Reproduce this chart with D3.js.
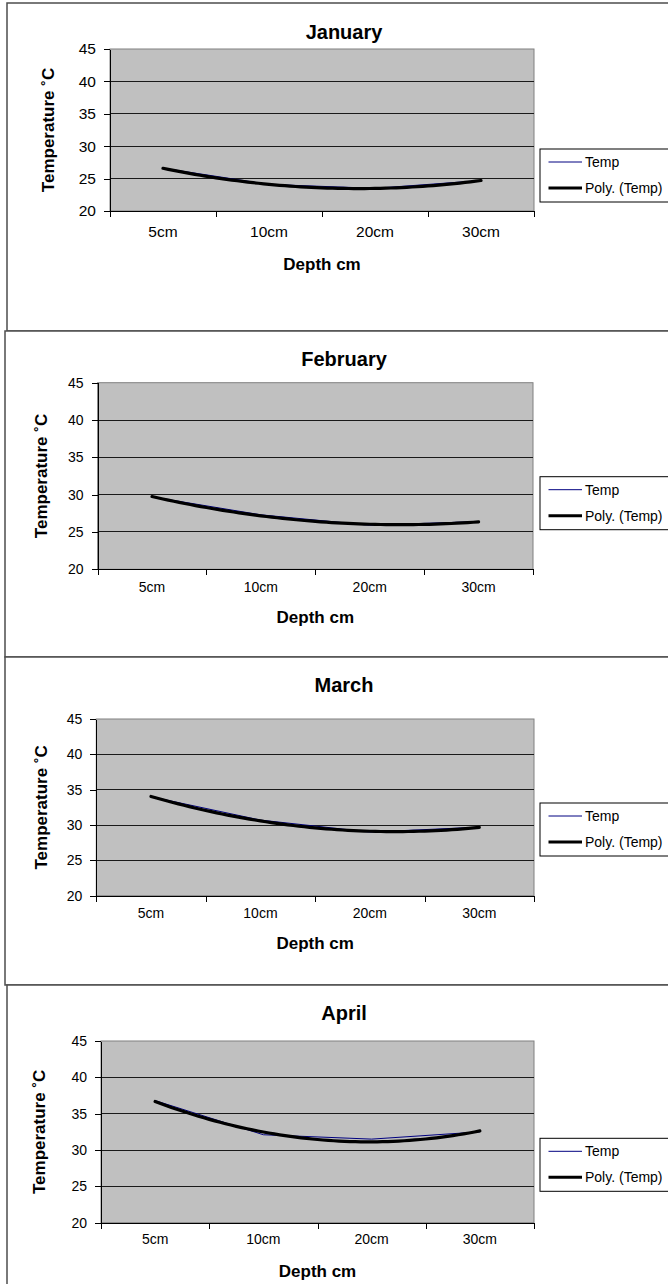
<!DOCTYPE html>
<meta charset="utf-8">
<style>
body { margin: 0; background: #fff; }
svg { display: block; }
text { font-family: "Liberation Sans", Arial, sans-serif; fill: #000; }
.axis path, .axis line { stroke: #000; shape-rendering: crispEdges; }
.grid line { stroke: #1a1a1a; shape-rendering: crispEdges; }
</style>
<svg id="chart" width="668" height="1284"></svg>
<script src="https://d3js.org/d3.v7.min.js"></script>
<script>

var depths = ["5cm", "10cm", "20cm", "30cm"];
var months = ["January", "February", "March", "April"];
var tempJan = [26.6, 24.1, 23.5, 24.7];
var tempFeb = [29.7, 27.3, 25.9, 26.4];
var tempMar = [34.0, 30.7, 29.0, 29.7];
var tempApr = [36.8, 32.1, 31.5, 32.5];
var yTicks = [20, 25, 30, 35, 40, 45];
var legendLabels = ["Temp", "Poly. (Temp)"];
var xTitle = "Depth cm", yTitle = "Temperature \u02DAC";

var series = [tempJan, tempFeb, tempMar, tempApr];

// where each of the four stacked charts sits on the page
var panels = [
  {fx: 7, fy: 3,   fb: 331,  l: 110,  r: 534, t: 49,    b: 211,    tickY: 236.5, xtY: 270,   ytX: 54,   legT: 149,   fs: 15.5},
  {fx: 5, fy: 331, fb: 657,  l: 97.6, r: 533, t: 382.7, b: 569.3,  tickY: 591.5, xtY: 622.5, ytX: 47,   legT: 476.7, fs: 14},
  {fx: 5, fy: 657, fb: 985,  l: 96.3, r: 534, t: 719,   b: 895.7,  tickY: 917.5, xtY: 949,   ytX: 46.5, legT: 803,   fs: 14},
  {fx: 7, fy: 985, fb: 1300, l: 101,  r: 534, t: 1041,  b: 1222.7, tickY: 1244,  xtY: 1276.5, ytX: 45,  legT: 1138.3, fs: 14}
];

var titleY = [39, 366, 692, 1020];

// least squares, order 2, x = 1..n (like the spreadsheet trendline)
function polyFit(ys) {
  var s = [0, 0, 0, 0, 0], t = [0, 0, 0];
  ys.forEach(function(y, i) {
    var x = i + 1;
    for (var k = 0; k < 5; k++) s[k] += Math.pow(x, k);
    for (var k = 0; k < 3; k++) t[k] += y * Math.pow(x, k);
  });
  var m = [[s[0], s[1], s[2], t[0]], [s[1], s[2], s[3], t[1]], [s[2], s[3], s[4], t[2]]];
  for (var i = 0; i < 3; i++) {
    for (var j = i + 1; j < 3; j++) {
      var f = m[j][i] / m[i][i];
      for (var k = i; k < 4; k++) m[j][k] -= f * m[i][k];
    }
  }
  var c = [0, 0, 0];
  for (var i = 2; i >= 0; i--) {
    var v = m[i][3];
    for (var k = i + 1; k < 3; k++) v -= m[i][k] * c[k];
    c[i] = v / m[i][i];
  }
  return function(x) { return c[0] + c[1] * x + c[2] * x * x; };
}

var svg = d3.select("#chart");

panels.forEach(function(p, n) {
  var data = series[n];
  var g = svg.append("g");

  // outer chart frame
  g.append("rect")
      .attr("x", p.fx).attr("y", p.fy)
      .attr("width", 700).attr("height", p.fb - p.fy)
      .attr("fill", "#fff")
      .attr("stroke", "#4d4d4d")
      .attr("stroke-width", 1.5);

  var x = d3.scaleBand().domain(depths).range([p.l, p.r]).padding(0);
  var xPos = d3.scaleLinear().domain([0.5, depths.length + 0.5]).range([p.l, p.r]);
  var y = d3.scaleLinear().domain([20, 45]).range([p.b, p.t]);

  g.append("rect")
      .attr("x", p.l).attr("y", p.t)
      .attr("width", p.r - p.l).attr("height", p.b - p.t)
      .attr("fill", "#c0c0c0")
      .attr("stroke", "#808080");

  g.append("g")
      .attr("class", "grid")
    .selectAll("line")
    .data(yTicks.filter(function(d) { return d > 20 && d < 45; }))
    .enter().append("line")
      .attr("x1", p.l).attr("x2", p.r)
      .attr("y1", function(d) { return y(d); })
      .attr("y2", function(d) { return y(d); });

  // y axis
  var ya = g.append("g")
      .attr("class", "axis")
      .attr("transform", "translate(" + p.l + ",0)")
      .call(d3.axisLeft(y).tickValues(yTicks).tickSize(6).tickPadding(8).tickSizeOuter(0));
  ya.selectAll("text").style("font-size", p.fs + "px");

  // x axis: marks on the band edges, labels in the middle
  g.append("g")
      .attr("class", "axis")
      .attr("transform", "translate(0," + p.b + ")")
      .call(d3.axisBottom(xPos).tickValues(d3.range(0.5, depths.length + 1, 1)).tickFormat("").tickSize(6).tickSizeOuter(0));

  g.selectAll(".xlab")
    .data(depths)
    .enter().append("text")
      .attr("x", function(d) { return x(d) + x.bandwidth() / 2; })
      .attr("y", p.tickY)
      .attr("text-anchor", "middle")
      .style("font-size", p.fs + "px")
      .text(function(d) { return d; });

  // data line and trend
  g.append("path")
      .datum(data)
      .attr("fill", "none")
      .attr("stroke", "#000080")
      .attr("stroke-width", 1)
      .attr("d", d3.line()
          .x(function(d, i) { return x(depths[i]) + x.bandwidth() / 2; })
          .y(function(d) { return y(d); }));

  var fit = polyFit(data);
  g.append("path")
      .datum(d3.range(1, depths.length + 0.001, 0.05))
      .attr("fill", "none")
      .attr("stroke", "#000")
      .attr("stroke-width", 3.2)
      .attr("stroke-linecap", "round")
      .attr("d", d3.line()
          .x(function(d) { return xPos(d); })
          .y(function(d) { return y(fit(d)); }));

  // titles
  g.append("text")
      .attr("x", 344).attr("y", titleY[n])
      .attr("text-anchor", "middle")
      .style("font-size", "20px").style("font-weight", "bold")
      .text(months[n]);

  g.append("text")
      .attr("x", (p.l + p.r) / 2).attr("y", p.xtY)
      .attr("text-anchor", "middle")
      .style("font-size", "17px").style("font-weight", "bold")
      .text(xTitle);

  g.append("text")
      .attr("transform", "translate(" + p.ytX + "," + ((p.t + p.b) / 2) + ") rotate(-90)")
      .attr("text-anchor", "middle")
      .style("font-size", "17px").style("font-weight", "bold")
      .text(yTitle);

  // legend
  var leg = g.append("g").attr("transform", "translate(540," + p.legT + ")");
  leg.append("rect")
      .attr("width", 200).attr("height", 53)
      .attr("fill", "#fff").attr("stroke", "#000");
  legendLabels.forEach(function(lab, i) {
    var ly = i === 0 ? 13 : 39;
    leg.append("line")
        .attr("x1", 8.5).attr("x2", 42).attr("y1", ly).attr("y2", ly)
        .attr("stroke", i === 0 ? "#000080" : "#000")
        .attr("stroke-width", i === 0 ? 1 : 3);
    leg.append("text")
        .attr("x", 45).attr("y", ly + 5)
        .style("font-size", "14px")
        .text(lab);
  });
});

</script>
